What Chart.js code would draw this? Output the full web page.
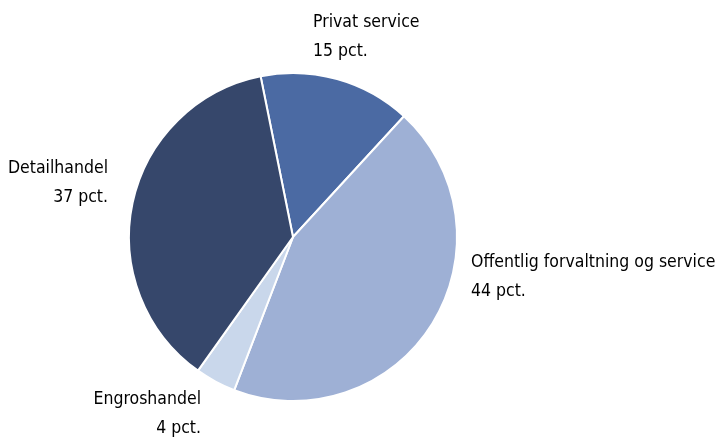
<!DOCTYPE html>
<html>
<head>
<meta charset="utf-8">
<script src="https://cdn.jsdelivr.net/npm/chart.js@4"></script>
<style>
html,body{margin:0;padding:0;background:#fff;}
#c{display:block;}
</style>
</head>
<body>
<canvas id="c" width="717" height="438"></canvas>
<script>
const categories = ["Privat service", "Offentlig forvaltning og service", "Engroshandel", "Detailhandel"];
const shares = [15, 44, 4, 37];
const valueLabels = ["15 pct.", "44 pct.", "4 pct.", "37 pct."];
const colors = ["#4b6aa3", "#9eb0d5", "#c9d7eb", "#36476b"];

// label placement: x, y of first line, alignment
const labelPos = [
  {x: 313, y: 22, align: "left"},
  {x: 471, y: 262, align: "left"},
  {x: 201, y: 399, align: "right"},
  {x: 108, y: 168, align: "right"}
];

const labelPlugin = {
  id: "outLabels",
  afterDraw(chart) {
    const ctx = chart.ctx;
    ctx.save();
    ctx.fillStyle = "#000";
    ctx.font = "17.5px 'DejaVu Sans Condensed', 'Liberation Sans Narrow', sans-serif";
    ctx.textBaseline = "middle";
    categories.forEach((cat, i) => {
      const p = labelPos[i];
      ctx.textAlign = p.align;
      ctx.fillText(cat, p.x, p.y);
      ctx.fillText(valueLabels[i], p.x, p.y + 29);
    });
    ctx.restore();
  }
};

new Chart(document.getElementById("c"), {
  type: "pie",
  data: {
    labels: categories,
    datasets: [{
      data: shares,
      backgroundColor: colors,
      borderColor: "#ffffff",
      borderWidth: 2
    }]
  },
  options: {
    responsive: false,
    animation: false,
    rotation: -11.4,
    layout: {padding: {top: 72, bottom: 36, left: 0, right: 131}},
    plugins: {legend: {display: false}, tooltip: {enabled: false}}
  },
  plugins: [labelPlugin]
});
</script>
</body>
</html>
